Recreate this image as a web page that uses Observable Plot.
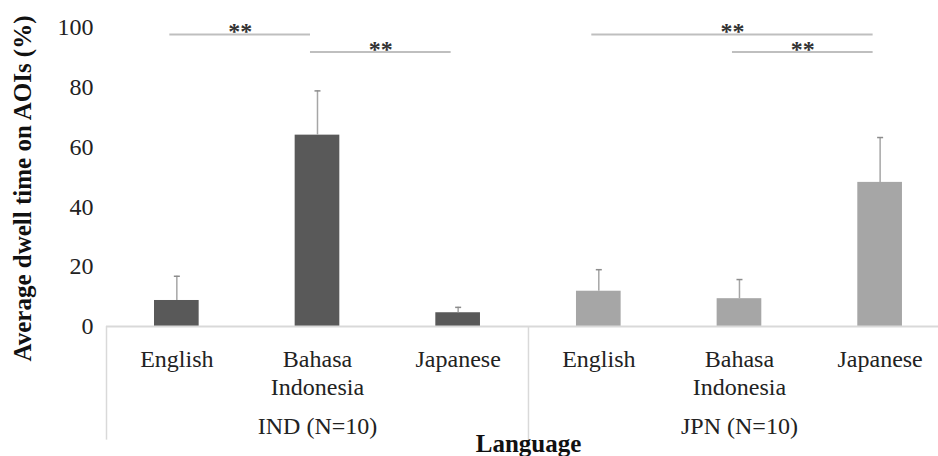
<!DOCTYPE html>
<html>
<head>
<meta charset="utf-8">
<script src="https://cdn.jsdelivr.net/npm/d3@7"></script>
<script src="https://cdn.jsdelivr.net/npm/@observablehq/plot@0.6"></script>
<style>
  body { margin: 0; background: #fff; }
  #chart svg { display: block; }
</style>
</head>
<body>
<div id="chart"></div>
<script>
// ---- data ----
const groups = ["IND (N=10)", "IND (N=10)", "IND (N=10)", "JPN (N=10)", "JPN (N=10)", "JPN (N=10)"];
const languages = ["English", "Bahasa\nIndonesia", "Japanese", "English", "Bahasa\nIndonesia", "Japanese"];
const means = [8.7, 64.0, 4.6, 11.8, 9.3, 48.2];
const errors = [8.1, 14.8, 1.8, 7.2, 6.4, 15.0];
const groupNames = ["IND (N=10)", "JPN (N=10)"];
const groupColors = ["#595959", "#a6a6a6"];
const yTicks = [0, 20, 40, 60, 80, 100];
const bracketFrom = [0, 1, 3, 4];
const bracketTo = [1, 2, 5, 5];
const bracketLevel = [97.7, 91.8, 97.7, 91.8];
const bracketLabels = ["**", "**", "**", "**"];
const yTitle = "Average dwell time on AOIs (%)";
const xTitle = "Language";

const serif = "'Liberation Serif', 'Times New Roman', serif";

// ---- tables built from the arrays ----
const bars = means.map((m, i) => ({i, group: groups[i], language: languages[i], mean: m, err: errors[i]}));
const groupInfo = groupNames.map(g => {
  const idx = bars.filter(d => d.group === g).map(d => d.i);
  return {name: g, center: d3.mean(idx), start: d3.min(idx) - 0.5};
});
const dividers = groupInfo.map((g, k) => ({x: g.start, bottom: k === 0 ? -38 : -44}));
const brackets = bracketFrom.map((f, k) => ({from: f, to: bracketTo[k], y: bracketLevel[k], label: bracketLabels[k]}));

const capSymbol = {
  draw(ctx) { ctx.moveTo(-3, 0); ctx.lineTo(3, 0); }
};

const chart = Plot.plot({
  width: 938,
  height: 456,
  marginLeft: 106,
  marginRight: 0,
  marginTop: 27,
  marginBottom: 130,
  style: {fontFamily: serif, color: "#222", background: "#fff", overflow: "visible"},
  x: {domain: [-0.5, 5.415], axis: null},
  y: {domain: [0, 100], axis: null},
  color: {domain: groupNames, range: groupColors},
  marks: [
    // y tick labels
    Plot.text(yTicks, {y: d => d, text: d => String(d), frameAnchor: "left", textAnchor: "end", lineAnchor: "middle", dx: -13, fontSize: 24, fill: "#222"}),
    // dividers between groups
    Plot.ruleX(dividers, {x: "x", y1: 0, y2: "bottom", stroke: "#d9d9d9", strokeWidth: 1.5}),
    // bars
    Plot.rectY(bars, {x1: d => d.i - 0.5, x2: d => d.i + 0.5, y: "mean", fill: "group", insetLeft: 48, insetRight: 48}),
    // baseline
    Plot.ruleY([0], {stroke: "#d9d9d9", strokeWidth: 2}),
    // error bars
    Plot.ruleX(bars, {x: "i", y1: "mean", y2: d => d.mean + d.err, stroke: "#a6a6a6", strokeWidth: 1.5}),
    Plot.dot(bars, {x: "i", y: d => d.mean + d.err, symbol: capSymbol, r: 3, stroke: "#8c8c8c", strokeWidth: 1.5, fill: "none"}),
    // significance brackets
    Plot.ruleY(brackets, {y: "y", x1: "from", x2: "to", dx: -7, stroke: "#bfbfbf", strokeWidth: 2}),
    Plot.text(brackets, {x: d => (d.from + d.to) / 2, y: "y", text: "label", dx: -7, dy: -3, lineAnchor: "middle", fontSize: 24, fontWeight: "bold", fill: "#333"}),
    // category labels
    Plot.text(bars, {x: "i", text: "language", frameAnchor: "bottom", lineAnchor: "top", dy: 20, lineHeight: 1.18, fontSize: 24, fill: "#222"}),
    // group labels
    Plot.text(groupInfo, {x: "center", text: "name", frameAnchor: "bottom", lineAnchor: "middle", dy: 100, fontSize: 24, fill: "#222"}),
    // axis titles
    Plot.text([xTitle], {frameAnchor: "bottom", lineAnchor: "middle", dx: 6, dy: 117, fontSize: 25, fontWeight: "bold", fill: "#111"}),
    Plot.text([yTitle], {frameAnchor: "left", textAnchor: "middle", rotate: -90, lineAnchor: "middle", dx: -84, dy: 11.5, fontSize: 25, fontWeight: "bold", fill: "#111"})
  ]
});

document.getElementById("chart").appendChild(chart);
</script>
</body>
</html>
